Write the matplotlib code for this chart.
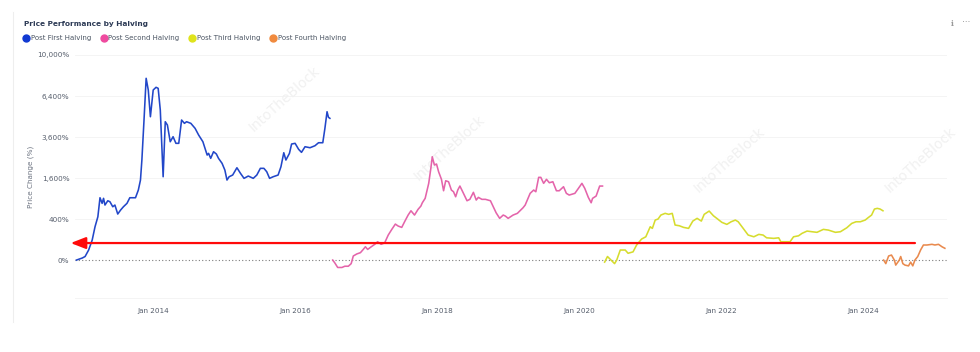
import numpy as np
import pandas as pd
import matplotlib
matplotlib.use('Agg')
import matplotlib.pyplot as plt
from matplotlib.lines import Line2D

# time as decimal years, price change in %
first_t = [2012.92, 2013.00, 2013.04, 2013.09, 2013.14, 2013.18, 2013.22, 2013.25, 2013.28, 2013.30,
           2013.32, 2013.36, 2013.39, 2013.43, 2013.46, 2013.50, 2013.54, 2013.58, 2013.63, 2013.67,
           2013.75, 2013.79, 2013.82, 2013.84, 2013.87, 2013.90, 2013.93, 2013.96, 2014.00, 2014.04,
           2014.07, 2014.10, 2014.14, 2014.17, 2014.20, 2014.24, 2014.28, 2014.32, 2014.36, 2014.40,
           2014.44, 2014.47, 2014.53, 2014.59, 2014.64, 2014.70, 2014.76, 2014.78, 2014.81, 2014.85,
           2014.89, 2014.92, 2014.97, 2015.01, 2015.04, 2015.07, 2015.12, 2015.18, 2015.23, 2015.28,
           2015.34, 2015.41, 2015.46, 2015.51, 2015.56, 2015.60, 2015.64, 2015.69, 2015.76, 2015.80,
           2015.84, 2015.87, 2015.92, 2015.95, 2016.00, 2016.05, 2016.09, 2016.14, 2016.21, 2016.28,
           2016.33, 2016.39, 2016.42, 2016.45, 2016.47, 2016.49]
first_v = [0, 1, 3, 24, 95, 264, 446, 924, 765, 906,
           720, 837, 809, 676, 720, 504, 595, 676, 765, 924,
           924, 1166, 1523, 2380, 4664, 7856, 6877, 4886, 6877, 7097,
           7015, 5354, 1651, 4551, 4337, 3330, 3618, 3241, 3241, 4664,
           4446, 4551, 4446, 4127, 3718, 3330, 2623, 2709, 2461, 2791,
           2674, 2461, 2225, 1927, 1523, 1651, 1719, 2027, 1789, 1588,
           1679, 1588, 1719, 2001, 2001, 1855, 1588, 1651, 1719, 2071,
           2740, 2380, 2709, 3202, 3241, 2916, 2760, 3055, 3001, 3109,
           3274, 3274, 4127, 5233, 4846, 4778]

second_t = [2016.53, 2016.56, 2016.60, 2016.66, 2016.70, 2016.75, 2016.79, 2016.82, 2016.87, 2016.92,
            2016.96, 2016.99, 2017.02, 2017.07, 2017.12, 2017.16, 2017.21, 2017.26, 2017.31, 2017.36,
            2017.41, 2017.45, 2017.50, 2017.54, 2017.59, 2017.63, 2017.68, 2017.73, 2017.77, 2017.79,
            2017.83, 2017.88, 2017.91, 2017.93, 2017.96, 2017.99, 2018.02, 2018.06, 2018.09, 2018.12,
            2018.16, 2018.20, 2018.23, 2018.26, 2018.29, 2018.32, 2018.37, 2018.42, 2018.46, 2018.51,
            2018.55, 2018.58, 2018.63, 2018.68, 2018.75, 2018.83, 2018.88, 2018.93, 2018.96, 2019.00,
            2019.07, 2019.13, 2019.21, 2019.24, 2019.31, 2019.36, 2019.39, 2019.43, 2019.46, 2019.50,
            2019.54, 2019.58, 2019.63, 2019.68, 2019.72, 2019.78, 2019.82, 2019.86, 2019.94, 2019.99,
            2020.04, 2020.08, 2020.13, 2020.17, 2020.19, 2020.24, 2020.29, 2020.33]
second_v = [0, -2, -13, -13, -9, -9, -3, 4, 9, 13,
            27, 42, 27, 42, 59, 80, 59, 71, 149, 224,
            308, 275, 254, 349, 482, 578, 482, 612, 694, 781,
            906, 1400, 2001, 2539, 2148, 2193, 1855, 1550, 1143, 1496,
            1459, 1166, 1110, 953, 1166, 1303, 1059, 837, 877, 1091,
            857, 935, 877, 877, 837, 532, 414, 482, 461, 414,
            482, 519, 651, 720, 1059, 1166, 1110, 1627, 1627, 1400,
            1550, 1422, 1459, 1143, 1143, 1279, 1059, 1005, 1059, 1223,
            1400, 1223, 935, 781, 906, 975, 1303, 1303]

third_t = [2020.36, 2020.40, 2020.45, 2020.50, 2020.53, 2020.58, 2020.65, 2020.69, 2020.76, 2020.81,
           2020.88, 2020.94, 2021.00, 2021.03, 2021.07, 2021.11, 2021.15, 2021.21, 2021.26, 2021.31,
           2021.35, 2021.41, 2021.47, 2021.54, 2021.60, 2021.66, 2021.72, 2021.76, 2021.83, 2021.89,
           2021.95, 2022.01, 2022.08, 2022.14, 2022.20, 2022.24, 2022.31, 2022.38, 2022.46, 2022.53,
           2022.59, 2022.64, 2022.74, 2022.81, 2022.84, 2022.93, 2022.97, 2023.02, 2023.09, 2023.14,
           2023.21, 2023.28, 2023.35, 2023.44, 2023.51, 2023.61, 2023.68, 2023.77, 2023.84, 2023.90,
           2023.96, 2024.03, 2024.07, 2024.12, 2024.16, 2024.20, 2024.24, 2024.28]
third_v = [-1, 3, 0, -3, 0, 24, 24, 11, 16, 54,
           105, 129, 264, 239, 381, 400, 482, 519, 497, 519,
           292, 280, 254, 239, 362, 414, 362, 497, 571, 467,
           400, 338, 303, 349, 381, 349, 239, 149, 129, 157,
           149, 118, 112, 118, 80, 80, 80, 129, 140, 170,
           200, 191, 183, 224, 214, 183, 191, 248, 320, 349,
           349, 381, 426, 482, 619, 636, 619, 578]

fourth_t = [2024.29, 2024.32, 2024.36, 2024.40, 2024.44, 2024.46, 2024.51, 2024.53, 2024.56, 2024.59,
            2024.64, 2024.67, 2024.70, 2024.73, 2024.77, 2024.81, 2024.85, 2024.90, 2024.97, 2025.01,
            2025.06, 2025.11, 2025.15]
fourth_v = [0, -3, 4, 6, 0, -6, 0, 3, -3, -6,
            -8, -1, -8, 0, 3, 24, 54, 54, 59, 54,
            59, 42, 33]

labels = ['Post First Halving', 'Post Second Halving', 'Post Third Halving', 'Post Fourth Halving']
colors = ['#2247c9', '#e464aa', '#d6dc2e', '#e98a4e']
dot_colors = ['#1139d2', '#ef4a9f', '#dfe31c', '#f08a3e']

yticks = [0, 400, 1600, 3600, 6400, 10000]
xtick_years = [2014, 2016, 2018, 2020, 2022, 2024]
arrow_level = 69


def to_date(t):
    t = np.asarray(t, dtype=float)
    yr = np.floor(t).astype(int)
    start = pd.to_datetime([f'{y}-01-01' for y in yr])
    return start + pd.to_timedelta((t - yr) * 365.25, unit='D')


def fwd(v):
    return np.sign(v) * np.sqrt(np.abs(v))


def inv(v):
    return np.sign(v) * v ** 2


fig = plt.figure(figsize=(9.8, 3.52), dpi=100)
ax = fig.add_axes([75 / 980, 1 - 298 / 352, 872 / 980, 243 / 352])
ax.set_yscale('function', functions=(fwd, inv))

series = [(first_t, first_v), (second_t, second_v), (third_t, third_v), (fourth_t, fourth_v)]
for (t, v), c in zip(series, colors):
    ax.plot(to_date(t), v, color=c, lw=1.15, zorder=3)

ax.set_xlim(to_date([2012.90])[0], to_date([2025.18])[0])
ax.set_ylim(-342, 10000)

ax.set_yticks(yticks)
ax.set_yticklabels([f'{y:,}%' for y in yticks])
ax.set_xticks(to_date(xtick_years))
ax.set_xticklabels([f'Jan {y}' for y in xtick_years])
ax.tick_params(length=0, labelsize=5.2, colors='#555d6b', pad=4)
ax.tick_params(axis='x', pad=7)
for v in yticks[1:]:
    ax.axhline(v, color='#f3f3f3', lw=0.6, zorder=0)
ax.axhline(0, color='#7d7d7d', lw=0.8, ls=(0, (1, 2)), zorder=1)
for s in ax.spines.values():
    s.set_visible(False)
ax.spines['bottom'].set_visible(True)
ax.spines['bottom'].set_color('#f2f2f2')
ax.spines['bottom'].set_linewidth(0.6)

ax.set_ylabel('Price Change (%)', fontsize=5.2, color='#6b7280', labelpad=2)

# red arrow pointing left
ax.annotate('', xy=(to_date([2012.80])[0], arrow_level), xytext=(to_date([2024.77])[0], arrow_level),
            arrowprops=dict(arrowstyle='-|>,head_length=0.9,head_width=0.35', color='#ff0a0a', lw=1.6),
            annotation_clip=False, zorder=4)

# faint watermarks
for wx, wy in [(0.24, 0.82), (0.43, 0.62), (0.75, 0.57), (0.97, 0.57)]:
    ax.text(wx, wy, 'IntoTheBlock', transform=ax.transAxes, rotation=42, fontsize=10,
            color='#f1f1f1', ha='center', va='center', zorder=0, clip_on=False)

fig.text(24 / 980, 1 - 24 / 352, 'Price Performance by Halving', fontsize=5.3, fontweight='bold',
         color='#2c3a55', va='center')
handles = [Line2D([], [], marker='o', ls='', color=c, markersize=5) for c in dot_colors]
fig.legend(handles, labels, loc='center left', bbox_to_anchor=(19 / 980, 1 - 38 / 352), ncol=4,
           frameon=False, fontsize=5.0, labelcolor='#4b5563', handletextpad=0.2, columnspacing=1.3,
           handlelength=1.0, borderpad=0)
fig.text(951 / 980, 1 - 23 / 352, 'ℹ', fontsize=5.5, color='#999999', va='center')
fig.text(962 / 980, 1 - 22 / 352, '⋯', fontsize=6, color='#999999', va='center')
fig.add_artist(Line2D([13 / 980, 13 / 980], [1 - 322 / 352, 1 - 12 / 352], color='#eeeeee', lw=0.8))

fig.savefig('out.png', dpi=100)
